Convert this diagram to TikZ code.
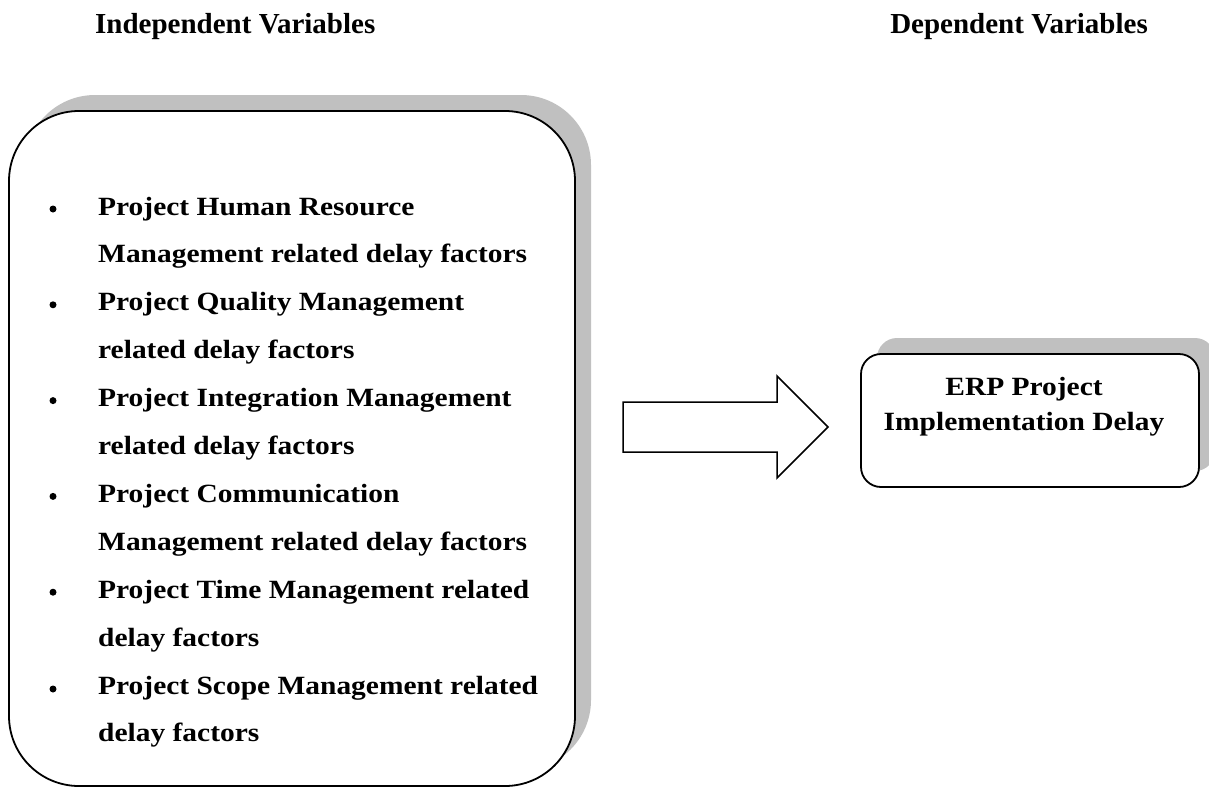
\documentclass[tikz,border=0pt]{standalone}
\usepackage{fontspec}
\setmainfont{Liberation Serif}
\newfontfamily\bodyfont[FakeStretch=1.12]{Liberation Serif}
\definecolor{shadowgray}{RGB}{192,192,192}
\begin{document}
\begin{tikzpicture}[x=1pt,y=-1pt,
  header/.style={font=\fontsize{29}{29}\selectfont\bfseries, inner sep=0pt},
  bodytext/.style={font=\bodyfont\fontsize{26.3}{26.3}\selectfont\bfseries, inner sep=0pt, anchor=base west},
  centertext/.style={font=\bodyfont\fontsize{26.3}{26.3}\selectfont\bfseries, inner sep=0pt, anchor=base},
  bulletdot/.style={circle, fill=black, inner sep=0pt, minimum size=7pt},
  shadowbox/.style={fill=shadowgray, draw=none, inner sep=0pt},
  mainbox/.style={draw=black, fill=white, line width=1.8pt, inner sep=0pt},
  blockarrow/.style={draw=black, fill=white, line width=1.5pt, line join=miter}]
\useasboundingbox (0,0) rectangle (1209,787);

% headers
\node[header, anchor=base west] (indep) at (95,33) {Independent Variables};
\node[header, anchor=base east] (dep) at (1148,33) {Dependent Variables};

% big box with shadow
\node[shadowbox, rounded corners=70pt, minimum width=566pt, minimum height=675pt] (ivshadow) at (308,432.5) {};
\node[mainbox, rounded corners=70pt, minimum width=566pt, minimum height=675pt] (ivbox) at (292,448.5) {};

% bullets
\node[bulletdot] (b1) at (53,209) {};
\node[bulletdot] (b2) at (53,304.8) {};
\node[bulletdot] (b3) at (53,400.6) {};
\node[bulletdot] (b4) at (53,496.4) {};
\node[bulletdot] (b5) at (53,592.2) {};
\node[bulletdot] (b6) at (53,689) {};

% list text
\node[bodytext] (l0) at (98,215) {Project Human Resource};
\node[bodytext] (l1) at (98,262.9) {Management related delay factors};
\node[bodytext] (l2) at (98,310.8) {Project Quality Management};
\node[bodytext] (l3) at (98,358.7) {related delay factors};
\node[bodytext] (l4) at (98,406.6) {Project Integration Management};
\node[bodytext] (l5) at (98,454.5) {related delay factors};
\node[bodytext] (l6) at (98,502.4) {Project Communication};
\node[bodytext] (l7) at (98,550.3) {Management related delay factors};
\node[bodytext] (l8) at (98,598.2) {Project Time Management related};
\node[bodytext] (l9) at (98,646.1) {delay factors};
\node[bodytext] (l10) at (98,694) {Project Scope Management related};
\node[bodytext] (l11) at (98,741.9) {delay factors};

% block arrow
\coordinate (a1) at (623,402);
\coordinate (a2) at (777,402);
\coordinate (a3) at (777,376);
\coordinate (a4) at (828,427);
\coordinate (a5) at (777,478);
\coordinate (a6) at (777,452);
\coordinate (a7) at (623,452);
\draw[blockarrow] (a1) -- (a2) -- (a3) -- (a4) -- (a5) -- (a6) -- (a7) -- cycle;

% dependent box with shadow
\node[shadowbox, rounded corners=20pt, minimum width=338pt, minimum height=133pt] (dvshadow) at (1046,404.5) {};
\node[mainbox, rounded corners=20pt, minimum width=338pt, minimum height=133pt] (dvbox) at (1030,420.5) {};
\node[centertext] (erp1) at (1024,395) {ERP Project};
\node[centertext] (erp2) at (1024,430) {Implementation Delay};
\end{tikzpicture}
\end{document}
